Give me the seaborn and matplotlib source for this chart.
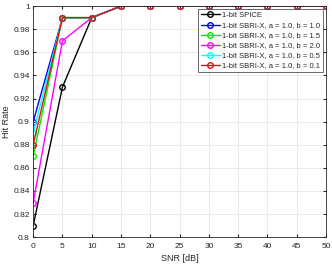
import numpy as np
import pandas as pd
import matplotlib
matplotlib.use("Agg")
import matplotlib.pyplot as plt
import seaborn as sns

# SNR grid and hit rates
snr = [0, 5, 10, 15, 20, 25, 30, 35, 40, 45, 50]
spice = [0.81, 0.93, 0.99, 1, 1, 1, 1, 1, 1, 1, 1]
sbri_b10 = [0.90, 0.99, 0.99, 1, 1, 1, 1, 1, 1, 1, 1]
sbri_b15 = [0.87, 0.99, 0.99, 1, 1, 1, 1, 1, 1, 1, 1]
sbri_b20 = [0.83, 0.97, 0.99, 1, 1, 1, 1, 1, 1, 1, 1]
sbri_b05 = [0.89, 0.99, 0.99, 1, 1, 1, 1, 1, 1, 1, 1]
sbri_b01 = [0.88, 0.99, 0.99, 1, 1, 1, 1, 1, 1, 1, 1]

labels = ["1-bit SPICE",
          "1-bit SBRI-X, a = 1.0, b = 1.0",
          "1-bit SBRI-X, a = 1.0, b = 1.5",
          "1-bit SBRI-X, a = 1.0, b = 2.0",
          "1-bit SBRI-X, a = 1.0, b = 0.5",
          "1-bit SBRI-X, a = 1.0, b = 0.1"]
colors = ["black", "blue", "#00ee00", "magenta", "cyan", "#e01010"]

series = [spice, sbri_b10, sbri_b15, sbri_b20, sbri_b05, sbri_b01]
df = pd.concat([pd.DataFrame({"snr": snr, "hit": s, "method": lab})
                for s, lab in zip(series, labels)], ignore_index=True)

sns.set_style("white")
plt.rcParams["font.family"] = ["Liberation Sans", "DejaVu Sans"]

fig = plt.figure(figsize=(3.32, 2.65), dpi=100)
ax = fig.add_axes([0.1, 0.105, 0.882, 0.872])

sns.lineplot(data=df, x="snr", y="hit", hue="method", hue_order=labels,
             palette=colors, marker="o", markersize=4, markerfacecolor="none",
             markeredgewidth=1.0, linewidth=1.0, dashes=False, ax=ax)
for line, c in zip(ax.lines, colors):
    line.set_markeredgecolor(c)

ax.set_xlim(0, 50)
ax.set_ylim(0.8, 1.0)
ax.set_xticks(np.arange(0, 51, 5))
ax.set_yticks(np.arange(0.8, 1.001, 0.02))
ax.set_yticklabels(["0.8", "0.82", "0.84", "0.86", "0.88", "0.9",
                    "0.92", "0.94", "0.96", "0.98", "1"])
ax.grid(True, color="#e6e6e6", linewidth=0.6)
ax.tick_params(labelsize=6, length=2.5, direction="in", colors="#262626",
               top=True, right=True, left=True, bottom=True)
ax.tick_params(axis="x", pad=4)
ax.tick_params(axis="y", pad=2.5)
for sp in ax.spines.values():
    sp.set_color("#262626")
    sp.set_linewidth(0.6)
ax.set_xlabel("SNR [dB]", fontsize=6.5, labelpad=3)
ax.set_ylabel("Hit Rate", fontsize=6.5, labelpad=1.5)

leg = ax.legend(loc="upper right", fontsize=5.5, frameon=True, fancybox=False,
                borderpad=0.35, labelspacing=0.35, handlelength=2.5,
                handletextpad=0.3, borderaxespad=0.4)
leg.get_frame().set_edgecolor("#262626")
leg.get_frame().set_linewidth(0.6)
for h, c in zip(leg.get_lines(), colors):
    h.set_markeredgecolor(c)
    h.set_markerfacecolor("none")

fig.savefig("out.png", dpi=100)
